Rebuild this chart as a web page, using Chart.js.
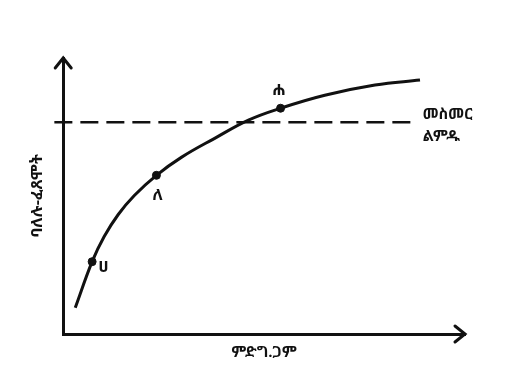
<!DOCTYPE html>
<html>
<head>
<meta charset="utf-8">
<script src="https://cdn.jsdelivr.net/npm/chart.js@4"></script>
<style>
  html, body { margin: 0; padding: 0; background: #fff; }
  #wrap { width: 515px; height: 375px; }
</style>
</head>
<body>
<div id="wrap"><canvas id="curveChart"></canvas></div>
<script>
// Curve (x = effort, y = result, both 0-100)
const curveX = [3.0, 7.2, 10.2, 13.7, 17.7, 23.2, 29.4, 37.7, 46.1, 54.1, 65.1, 77.6, 88.8];
const curveY = [9.5, 26.2, 35.3, 43.3, 50.2, 57.5, 64.0, 70.9, 77.5, 81.8, 86.5, 90.2, 92.0];

// Marked points on the curve
const pointNames = ['ሀ', 'ለ', 'ሐ'];
const pointX = [7.2, 23.2, 54.1];
const pointY = [26.2, 57.5, 81.8];

// Horizontal dashed line
const lineX = [-2.2, 87.5];
const lineY = 76.7;
const lineLabel = ['መስመር', 'ልምዱ'];

const xTitle = 'ምድግ.ጋም';
const yTitle = 'ባለሉ-ፈጸሞት';

const ethFont = "'Noto Sans Ethiopic', 'Abyssinica SIL', 'Noto Sans', 'DejaVu Sans', sans-serif";

// arrows on the axes + text next to points and dashed line
const decorPlugin = {
  id: 'decor',
  afterDraw(chart) {
    const { ctx, chartArea, scales } = chart;
    ctx.save();
    ctx.strokeStyle = '#111';
    ctx.lineWidth = 3;
    ctx.lineCap = 'round';
    // y arrow
    ctx.beginPath();
    ctx.moveTo(chartArea.left - 8, chartArea.top + 10);
    ctx.lineTo(chartArea.left, chartArea.top);
    ctx.lineTo(chartArea.left + 8, chartArea.top + 10);
    ctx.stroke();
    // x arrow
    ctx.beginPath();
    ctx.moveTo(chartArea.right - 10, chartArea.bottom - 8);
    ctx.lineTo(chartArea.right, chartArea.bottom);
    ctx.lineTo(chartArea.right - 10, chartArea.bottom + 8);
    ctx.stroke();

    ctx.fillStyle = '#111';
    ctx.font = 'bold 16px ' + ethFont;
    ctx.textBaseline = 'middle';
    ctx.textAlign = 'left';
    const offsets = [[6, 6], [-4, 20], [-8, -18]];
    pointNames.forEach((n, i) => {
      const px = scales.x.getPixelForValue(pointX[i]);
      const py = scales.y.getPixelForValue(pointY[i]);
      ctx.fillText(n, px + offsets[i][0], py + offsets[i][1]);
    });

    ctx.font = 'bold 15px ' + ethFont;
    const lx = scales.x.getPixelForValue(lineX[1]) + 8;
    const ly = scales.y.getPixelForValue(lineY);
    ctx.fillText(lineLabel[0], lx, ly - 8);
    ctx.fillText(lineLabel[1], lx, ly + 14);
    ctx.restore();
  }
};

new Chart(document.getElementById('curveChart'), {
  type: 'scatter',
  data: {
    datasets: [
      {
        data: curveX.map((x, i) => ({ x: x, y: curveY[i] })),
        showLine: true,
        borderColor: '#111',
        borderWidth: 3,
        tension: 0.4,
        pointRadius: 0,
        clip: false
      },
      {
        data: pointX.map((x, i) => ({ x: x, y: pointY[i] })),
        pointRadius: 4,
        backgroundColor: '#111',
        borderColor: '#111'
      },
      {
        data: lineX.map(x => ({ x: x, y: lineY })),
        showLine: true,
        borderColor: '#111',
        borderWidth: 2.5,
        borderDash: [18, 8],
        pointRadius: 0,
        clip: false
      }
    ]
  },
  options: {
    responsive: true,
    maintainAspectRatio: false,
    animation: false,
    layout: { padding: { left: 24, right: 50, top: 58, bottom: 9 } },
    plugins: {
      legend: { display: false },
      tooltip: { enabled: false }
    },
    scales: {
      x: {
        min: 0, max: 100,
        grid: { display: false },
        border: { color: '#111', width: 3 },
        ticks: { display: false },
        title: { display: true, text: xTitle, color: '#111', font: { family: ethFont, size: 15, weight: 'bold' }, padding: { top: 2 } }
      },
      y: {
        min: 0, max: 100,
        grid: { display: false },
        border: { color: '#111', width: 3 },
        ticks: { display: false },
        title: { display: true, text: yTitle, color: '#111', font: { family: ethFont, size: 16, weight: 'bold' }, padding: { bottom: 8 } }
      }
    }
  },
  plugins: [decorPlugin]
});
</script>
</body>
</html>
